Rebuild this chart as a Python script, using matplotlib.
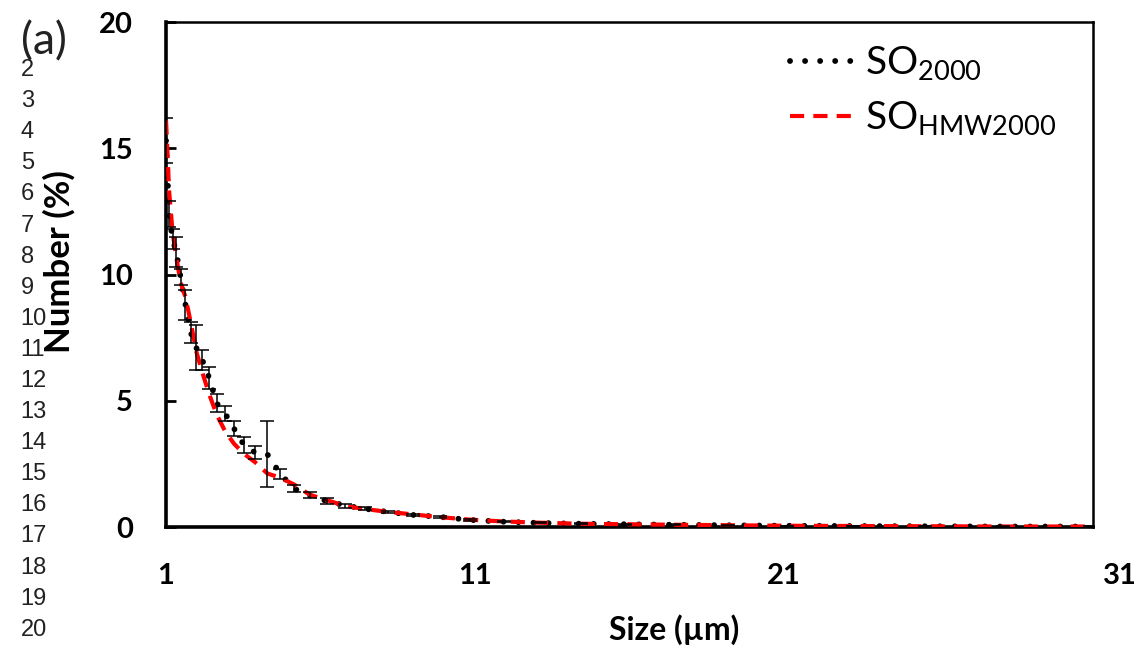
import numpy as np
import matplotlib.pyplot as plt
import matplotlib.transforms as mtransforms

plt.rcParams['font.family'] = ['Lato', 'DejaVu Sans']

# particle size (um)
size = [1.00, 1.10, 1.21, 1.33, 1.47, 1.63, 1.80, 1.98, 2.18, 2.40,
        2.64, 2.91, 3.20, 3.52, 3.88, 4.28, 4.70, 5.15, 5.65, 6.20,
        6.80, 7.45, 8.18, 8.98, 9.87, 10.85, 11.93, 13.11, 14.42, 15.86,
        17.45, 19.19, 21.11, 23.23, 25.55, 28.10, 30.91]

so2000 = [15.3, 12.4, 11.4, 10.9, 9.9, 8.8, 7.7, 7.1, 6.6, 5.9,
          4.9, 4.5, 3.9, 3.25, 2.95, 2.88, 2.1, 1.52, 1.25, 1.03,
          0.85, 0.72, 0.60, 0.48, 0.40, 0.28, 0.21, 0.16, 0.13, 0.11,
          0.09, 0.07, 0.05, 0.04, 0.03, 0.02, 0.02]

so2000_err = [0.9, 0.5, 0.4, 0.6, 0.3, 0.6, 0.4, 0.9, 0.4, 0.45,
              0.35, 0.3, 0.3, 0.3, 0.25, 1.3, 0.2, 0.15, 0.12, 0.1,
              0.08, 0.06, 0.05, 0.05, 0.04, 0.03, 0.03, 0.02, 0.02, 0.02,
              0.01, 0.01, 0.01, 0.01, 0.01, 0.01, 0.01]

sohmw2000 = [16.1, 13.3, 11.7, 10.7, 9.7, 9.1, 8.1, 6.95, 6.1, 5.25,
             4.45, 3.8, 3.3, 2.9, 2.57, 2.12, 1.95, 1.68, 1.28, 1.07,
             0.83, 0.71, 0.60, 0.50, 0.39, 0.29, 0.22, 0.17, 0.13, 0.11,
             0.09, 0.07, 0.05, 0.04, 0.03, 0.02, 0.02]

xticks = [1, 11, 21, 31]
yticks = [0, 5, 10, 15, 20]

fig = plt.figure(figsize=(11.45, 6.48), dpi=100)
ax = fig.add_axes([0.145, 0.1867, 0.8096, 0.7793])

ax.plot(size, so2000, color='black', lw=4.2, linestyle=(0, (0.01, 2.57)),
        dash_capstyle='round', label=r'SO$_{\mathregular{2000}}$', zorder=2)
ax.plot(size, sohmw2000, color='red', lw=3.0, linestyle=(0, (3.4, 2.2)),
        label=r'SO$_{\mathregular{HMW2000}}$', zorder=3)
ax.errorbar(size, so2000, yerr=so2000_err, fmt='none', ecolor='black',
            elinewidth=1.1, capsize=5, capthick=1.1, zorder=4)

ax.set_xlim(1, 31)
ax.set_ylim(0, 20)
ax.set_xticks(xticks)
ax.set_yticks(yticks)
ax.tick_params(axis='y', direction='in', length=7, width=2, pad=24,
               labelsize=21)
ax.tick_params(axis='x', length=0, pad=26, labelsize=21)
for lbl in ax.get_xticklabels() + ax.get_yticklabels():
    lbl.set_fontweight('bold')
last = ax.get_xticklabels()[-1]
last.set_transform(last.get_transform() +
                   mtransforms.ScaledTranslation(0.27, 0, fig.dpi_scale_trans))

for side in ['left', 'bottom']:
    ax.spines[side].set_linewidth(2.6)
for side in ['top', 'right']:
    ax.spines[side].set_linewidth(1.8)

ax.set_xlabel('Size (µm)', fontsize=23, fontweight='bold', va='top')
ax.xaxis.set_label_coords(0.548, -0.172)
ax.set_ylabel('Number (%)', fontsize=25, fontweight='bold')
ax.yaxis.set_label_coords(-0.098, 0.525)

ax.legend(loc='upper left', bbox_to_anchor=(0.676, 0.955),
          bbox_transform=fig.transFigure, frameon=False, fontsize=28,
          handlelength=1.7, handletextpad=0.25, labelspacing=0.42,
          borderaxespad=0)

fig.text(0.018, 0.936, '(a)', fontsize=32, va='center', ha='left',
         color='#222222')
for i in range(2, 21):
    fig.text(0.018, 1 - (70 + (i - 2) * 31.1) / 648, str(i),
             fontsize=17, family='Liberation Sans', va='center', ha='left',
             color='#222222')

fig.savefig('out.png', dpi=100)
